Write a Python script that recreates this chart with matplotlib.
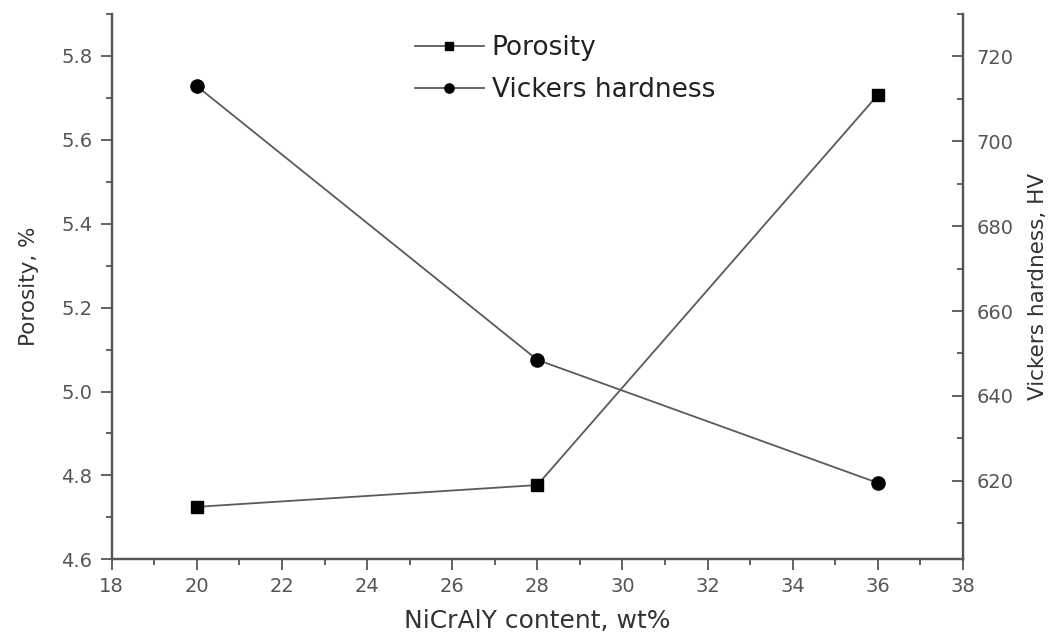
import matplotlib
matplotlib.use("Agg")
import matplotlib.pyplot as plt
from matplotlib.ticker import MultipleLocator

plt.rcParams['font.family'] = ['DejaVu Sans']

nicraly = [20, 28, 36]
porosity = [4.725, 4.777, 5.707]
hardness = [713.0, 648.5, 619.5]

fig = plt.figure(figsize=(10.57, 6.37), dpi=100)
ax = fig.add_axes([0.1057, 0.122, 0.8053, 0.856])
ax2 = ax.twinx()

l1, = ax.plot(nicraly, porosity, color='#5a5a5a', lw=1.3, marker='s', ms=8.5,
              mfc='black', mec='black', label='Porosity', zorder=3)
l2, = ax2.plot(nicraly, hardness, color='#5a5a5a', lw=1.3, marker='o', ms=9.5,
               mfc='black', mec='black', label='Vickers hardness', zorder=3)

ax.set_xlim(18, 38)
ax.set_ylim(4.6, 5.9)
ax2.set_ylim(601.5, 730)

ax.xaxis.set_major_locator(MultipleLocator(2))
ax.xaxis.set_minor_locator(MultipleLocator(1))
ax.set_yticks([4.6, 4.8, 5.0, 5.2, 5.4, 5.6, 5.8])
ax.yaxis.set_minor_locator(MultipleLocator(0.1))
ax.yaxis.set_major_formatter(plt.FuncFormatter(lambda v, p: f"{v:.1f}"))
ax2.set_yticks([620, 640, 660, 680, 700, 720])
ax2.yaxis.set_minor_locator(MultipleLocator(10))

for a in (ax, ax2):
    a.spines['top'].set_visible(False)
    for s in a.spines.values():
        s.set_color('#555555')
        s.set_linewidth(1.6)

ax.tick_params(which='major', direction='out', length=8, width=1.3,
               colors='#555555', labelsize=14, labelcolor='#555555', pad=6)
ax.tick_params(which='minor', direction='out', length=4.5, width=1.3,
               colors='#555555')
ax.tick_params(axis='x', which='major', pad=5)
ax2.tick_params(which='major', direction='in', length=8, width=1.3,
                colors='#555555', labelsize=14, labelcolor='#555555', pad=10)
ax2.tick_params(which='minor', direction='in', length=4.5, width=1.3,
                colors='#555555')

ax.set_xlabel('NiCrAlY content, wt%', fontsize=18, color='#333333', labelpad=9)
ax.set_ylabel('Porosity, %', fontsize=15.5, color='#333333', labelpad=16)
ax2.set_ylabel('Vickers hardness, HV', fontsize=15.5, color='#333333', labelpad=10)

leg = ax.legend([l1, l2], ['Porosity', 'Vickers hardness'], loc='upper left',
                bbox_to_anchor=(0.3926, 0.945), bbox_transform=fig.transFigure,
                frameon=False, fontsize=19, borderpad=0, borderaxespad=0,
                handlelength=2.6, handletextpad=0.3, labelspacing=0.62,
                markerscale=0.7)
for t in leg.get_texts():
    t.set_color('#222222')

fig.savefig('out.png', dpi=100)
